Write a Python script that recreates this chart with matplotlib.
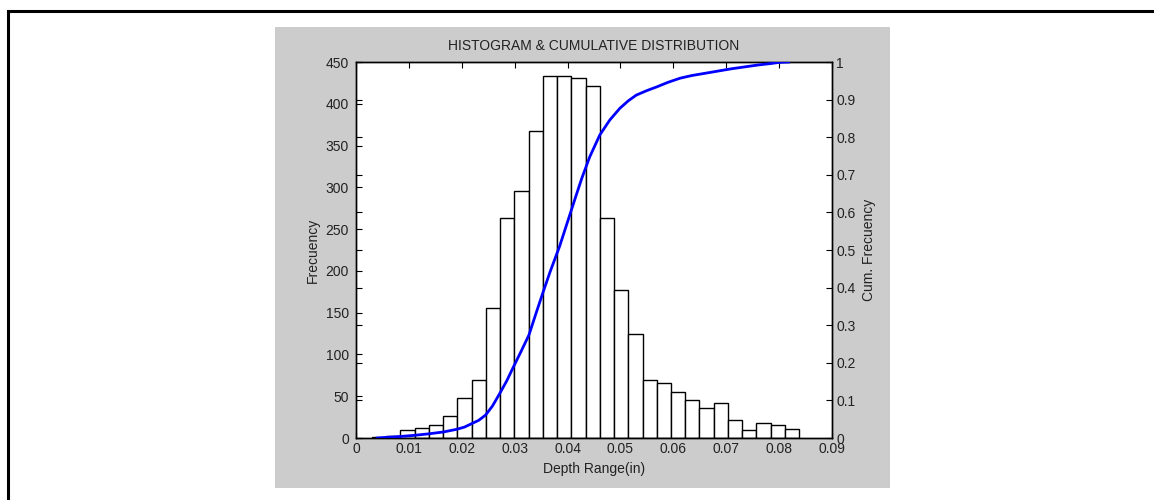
import numpy as np
import matplotlib
matplotlib.use("Agg")
import matplotlib.pyplot as plt
from matplotlib.patches import Rectangle
from matplotlib.lines import Line2D

plt.rcParams['font.family'] = ['Liberation Sans', 'DejaVu Sans']

# Histogram of depth range measurements (30 equal bins)
bin_start = 0.0030
bin_stop = 0.0838
counts = [1, 2, 9, 12, 15, 26, 48, 70, 156, 263,
          296, 367, 433, 433, 431, 421, 263, 177, 125, 70,
          66, 55, 45, 36, 42, 21, 10, 18, 15, 11]

# Cumulative distribution curve
cum_x = [0.0040, 0.0060, 0.0083, 0.0110, 0.0137, 0.0165, 0.0190, 0.0205,
         0.0217, 0.0232, 0.0245, 0.0258, 0.0272, 0.0285, 0.0298, 0.0312,
         0.0327, 0.0340, 0.0354, 0.0367, 0.0385, 0.0400, 0.0415, 0.0427,
         0.0442, 0.0461, 0.0480, 0.0499, 0.0515, 0.0530, 0.0550, 0.0569,
         0.0590, 0.0613, 0.0635, 0.0660, 0.0685, 0.0710, 0.0735, 0.0760,
         0.0785, 0.0800, 0.0818]
cum_y = [0.000, 0.002, 0.004, 0.007, 0.011, 0.016, 0.023, 0.029,
         0.037, 0.047, 0.061, 0.085, 0.119, 0.152, 0.190, 0.230,
         0.274, 0.330, 0.389, 0.442, 0.510, 0.575, 0.640, 0.691,
         0.748, 0.806, 0.846, 0.877, 0.897, 0.912, 0.924, 0.934,
         0.946, 0.957, 0.964, 0.970, 0.976, 0.982, 0.987, 0.992,
         0.996, 0.999, 1.000]

x_ticks = [0, 0.01, 0.02, 0.03, 0.04, 0.05, 0.06, 0.07, 0.08, 0.09]
x_labels = ['0', '0.01', '0.02', '0.03', '0.04', '0.05', '0.06', '0.07', '0.08', '0.09']
y_ticks = [0, 50, 100, 150, 200, 250, 300, 350, 400, 450]
cum_ticks = [0, 0.1, 0.2, 0.3, 0.4, 0.5, 0.6, 0.7, 0.8, 0.9, 1]
cum_labels = ['0', '0.1', '0.2', '0.3', '0.4', '0.5', '0.6', '0.7', '0.8', '0.9', '1']

W, H = 1154, 500
fig = plt.figure(figsize=(W / 100, H / 100), dpi=100)
fig.patch.set_facecolor('white')

# grey figure panel behind the axes
fig.patches.append(Rectangle((275 / W, 1 - 488 / H), 615 / W, 461 / H,
                             transform=fig.transFigure, facecolor='#cccccc',
                             edgecolor='none', zorder=-10))
# page frame (top and left edges)
fig.lines.append(Line2D([7.5 / W, 7.5 / W, 1.0], [0.0, 1 - 10.5 / H, 1 - 10.5 / H],
                        transform=fig.transFigure, color='black', lw=2.2,
                        solid_joinstyle='miter', zorder=-5))

ax = fig.add_axes([356 / W, 1 - 438 / H, 476 / W, 376 / H])
ax.set_facecolor('white')

edges = np.linspace(bin_start, bin_stop, len(counts) + 1)
ax.bar(edges[:-1], counts, width=np.diff(edges), align='edge',
       facecolor='white', edgecolor='black', linewidth=1.0, zorder=2)

ax.set_xlim(0, 0.09)
ax.set_ylim(0, 450)
ax.set_xticks(x_ticks)
ax.set_xticklabels(x_labels)
ax.set_yticks(y_ticks)
ax.set_yticklabels([str(v) for v in y_ticks])
ax.tick_params(axis='both', direction='in', length=4.5, width=0.8,
               labelsize=10, colors='black', labelcolor='#222222')
ax.tick_params(axis='x', top=True, bottom=True, pad=3)
ax.tick_params(axis='y', left=True, right=True, pad=5)
for s in ax.spines.values():
    s.set_linewidth(1.0)
    s.set_color('black')

ax.set_xlabel('Depth Range(in)', fontsize=10, color='#222222', labelpad=4)
ax.set_ylabel('Frecuency', fontsize=10, color='#222222', labelpad=4)
ax.set_title('HISTOGRAM & CUMULATIVE DISTRIBUTION', fontsize=10,
             color='#222222', pad=9)

ax2 = ax.twinx()
ax2.plot(cum_x, cum_y, color='#0000ff', lw=2.0, zorder=3,
         solid_joinstyle='round')
ax2.set_ylim(0, 1)
ax2.set_yticks(cum_ticks)
ax2.set_yticklabels(cum_labels)
ax2.tick_params(axis='y', direction='in', length=4.5, width=0.8, left=True,
                right=True, labelsize=10, pad=3, colors='black',
                labelcolor='#222222')
ax2.set_ylabel('Cum. Frecuency', fontsize=10, color='#222222', labelpad=5)
for s in ax2.spines.values():
    s.set_linewidth(1.0)
    s.set_color('black')

fig.savefig('out.png', dpi=100, facecolor='white')
